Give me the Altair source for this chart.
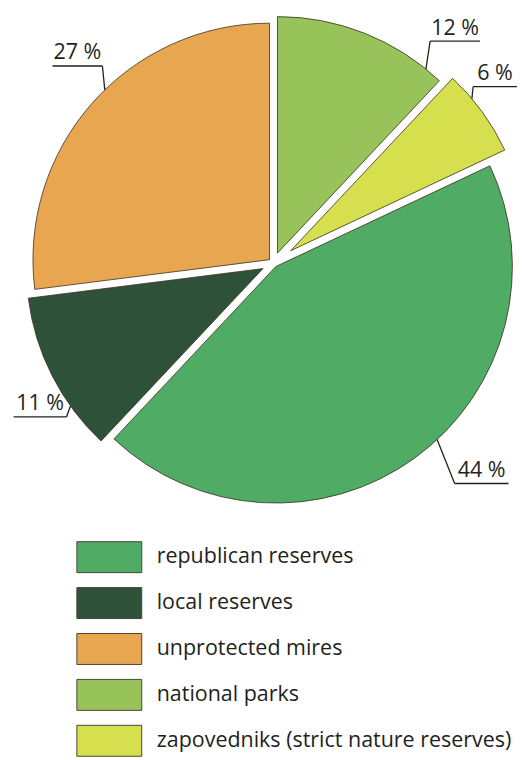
import altair as alt
import pandas as pd

# ---- data ----
categories = ["national parks", "zapovedniks (strict nature reserves)",
              "republican reserves", "local reserves", "unprotected mires"]
values = [12, 6, 44, 11, 27]
legend_order = ["republican reserves", "local reserves", "unprotected mires",
                "national parks", "zapovedniks (strict nature reserves)"]
colors = ["#50ac64", "#2e5239", "#e8a650", "#97c35a", "#d6df4e"]  # in legend order

# ---- layout / style (not data) ----
label_frac = [0.90, 0.315, 0.456, 0.285, 0.546]   # where along each slice the leader starts
leader_len = [28, 12, 44, 11, 24]
leader_tilt = [0.15, 0.1, 0.4, 0.36, 0.1]
underline_len = [50, 44, 54, 53, 50]
CX, CY, R = 266, 255, 237
GAP = 8
INK = "#231f20"
FONT = "Open Sans"

PIE_H = 522
LEG_H = 744 - PIE_H

df = pd.DataFrame({
    "category": categories,
    "value": values,
    "order": list(range(len(categories))),
    "frac": label_frac,
    "lead": leader_len,
    "tilt": leader_tilt,
    "ul": underline_len,
})

color_scale = alt.Scale(domain=legend_order, range=colors)

base = (
    alt.Chart(df)
    .transform_joinaggregate(total="sum(value)")
    .transform_window(cum="sum(value)", sort=[alt.SortField("order")], frame=[None, 0])
    .transform_calculate(
        a0="2*PI*(datum.cum - datum.value)/datum.total",
        a1="2*PI*datum.cum/datum.total",
    )
    .transform_calculate(
        mid="(datum.a0 + datum.a1)/2",
        d=f"{GAP}/(2*sin((datum.a1 - datum.a0)/2))",
        la="datum.a0 + datum.frac*(datum.a1 - datum.a0)",
    )
    .transform_calculate(
        ox=f"{CX} + datum.d*sin(datum.mid)",
        oy=f"{CY} - datum.d*cos(datum.mid)",
        sx="sin(datum.la) >= 0 ? 1 : -1",
        sy="cos(datum.la) >= 0 ? -1 : 1",
    )
    .transform_calculate(
        px=f"datum.ox + {R}*sin(datum.la)",
        py=f"datum.oy - {R}*cos(datum.la)",
    )
    .transform_calculate(
        qx="datum.px + datum.tilt*datum.lead*datum.sx",
        qy="datum.py + datum.lead*datum.sy",
    )
    .transform_calculate(
        ux="datum.qx + datum.ul*datum.sx",
        tx="datum.qx + datum.ul/2*datum.sx",
        ty="datum.qy - 1.5",
        label="datum.value + ' %'",
    )
)

def px(f):
    return alt.X(f"{f}:Q", scale=None, axis=None)

def py(f):
    return alt.Y(f"{f}:Q", scale=None, axis=None)

arcs = base.mark_arc(radius=R, stroke="#3b3020", strokeWidth=0.8).encode(
    x=px("ox"), y=py("oy"),
    theta=alt.Theta("a0:Q", scale=None),
    theta2="a1:Q",
    color=alt.Color("category:N", scale=color_scale, legend=None),
)

leaders = base.mark_rule(color=INK, strokeWidth=1.3).encode(
    x=px("px"), y=py("py"), x2="qx:Q", y2="qy:Q"
)
underlines = base.mark_rule(color=INK, strokeWidth=1.3).encode(
    x=px("qx"), x2="ux:Q", y=py("qy"), y2="qy:Q"
)
labels = base.mark_text(fontSize=21.5, font=FONT, color=INK, baseline="bottom", align="center").encode(
    x=px("tx"), y=py("ty"), text="label:N"
)

pie = alt.layer(arcs, leaders, underlines, labels).properties(width=510, height=PIE_H)

# legend rows: step 46, box height 31, first box 12px below the pie panel
STEP, BOX, TOP = 46, 31, 12
pin = (STEP - BOX) / STEP
pout = TOP / STEP
rng = STEP * (len(legend_order) - pin + 2 * pout)

leg_df = pd.DataFrame({"category": legend_order})
leg_y = alt.Y("category:N", sort=legend_order, axis=None,
              scale=alt.Scale(paddingInner=pin, paddingOuter=pout, range=[0, rng]))
leg_rects = alt.Chart(leg_df).mark_rect(stroke="#4a4535", strokeWidth=1).encode(
    y=leg_y, x=alt.value(69), x2=alt.value(134),
    color=alt.Color("category:N", scale=color_scale, legend=None),
)
leg_text = alt.Chart(leg_df).mark_text(align="left", baseline="middle", fontSize=21.5,
                                       font=FONT, color=INK).encode(
    y=leg_y, x=alt.value(149), text="category:N"
)
legend = alt.layer(leg_rects, leg_text).properties(width=510, height=LEG_H)

chart = (
    alt.vconcat(pie, legend, spacing=0)
    .properties(padding=0)
    .configure_view(stroke=None)
)

chart.save("out.html", embed_options={"renderer": "svg", "actions": False})
